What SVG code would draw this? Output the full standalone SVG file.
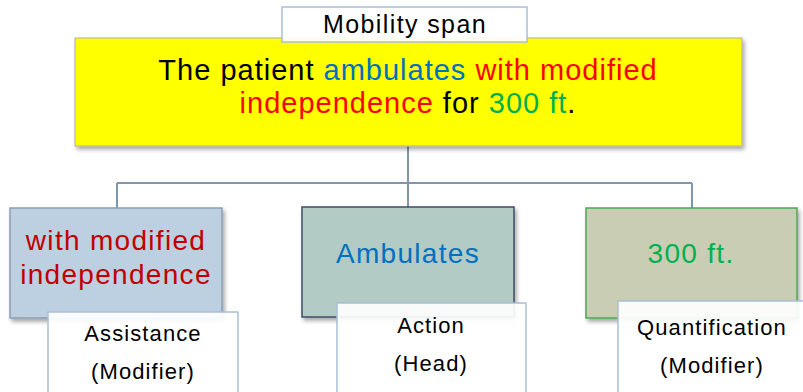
<svg xmlns="http://www.w3.org/2000/svg" width="803" height="392" viewBox="0 0 803 392">
  <defs>
    <filter id="shadow" x="-5%" y="-5%" width="115%" height="120%">
      <feGaussianBlur in="SourceAlpha" stdDeviation="2"/>
      <feOffset dx="2" dy="3" result="b"/>
      <feComponentTransfer><feFuncA type="linear" slope="0.35"/></feComponentTransfer>
      <feMerge><feMergeNode/><feMergeNode in="SourceGraphic"/></feMerge>
    </filter>
  </defs>
  <style>
    text { font-family: "Liberation Sans", Arial, sans-serif; text-anchor: middle; }
    .conn { fill: none; stroke: #7f96ad; stroke-width: 2; }
    .label { fill: #ffffff; fill-opacity: 0.92; stroke: #a9bfd6; stroke-width: 1.5; }
    .main { font-size: 29px; letter-spacing: 1px; fill: #000000; }
    .box { font-size: 28px; letter-spacing: 1.3px; }
    .sub { font-size: 22px; letter-spacing: 1.1px; fill: #000000; }
    .red { fill: #ff0000; }
    .blue { fill: #0070c0; }
    .green { fill: #00b050; }
  </style>

  <rect width="803" height="392" fill="#ffffff"/>

  <!-- connectors -->
  <g id="connectors">
    <path class="conn" d="M408,146 V183 M117,183 H692 M117,183 V208 M408,183 V207 M692,183 V208"/>
  </g>

  <!-- top sentence -->
  <g id="sentence">
    <rect x="75" y="38" width="667" height="108" fill="#ffff00" stroke="#b0b0a0" stroke-width="1" filter="url(#shadow)"/>
    <text class="main" x="408" y="80">The patient <tspan class="blue">ambulates</tspan> <tspan class="red">with modified</tspan></text>
    <text class="main" x="408" y="113"><tspan class="red">independence</tspan> for <tspan class="green">300 ft</tspan>.</text>
  </g>

  <g id="span-label">
    <rect class="label" x="282" y="7" width="245" height="35"/>
    <text x="405" y="33" font-size="25px" letter-spacing="1.4px" fill="#000000">Mobility span</text>
  </g>

  <!-- modifier: assistance -->
  <g id="assistance">
    <rect x="10" y="208" width="212" height="110" fill="#bdd0e2" stroke="#8a9fb5" stroke-width="1.5" filter="url(#shadow)"/>
    <text class="box" x="116" y="250" fill="#c00000">with modified</text>
    <text class="box" x="116" y="284" fill="#c00000">independence</text>
    <rect class="label" x="48" y="312" width="190" height="90"/>
    <text class="sub" x="143" y="341">Assistance</text>
    <text class="sub" x="143" y="379">(Modifier)</text>
  </g>

  <!-- head: action -->
  <g id="action">
    <rect x="302" y="207" width="212" height="110" fill="#b2cbc5" stroke="#3f4d63" stroke-width="1.5" filter="url(#shadow)"/>
    <text class="box" x="408" y="263" fill="#0070c0">Ambulates</text>
    <rect class="label" x="337" y="303" width="189" height="99"/>
    <text class="sub" x="431" y="333">Action</text>
    <text class="sub" x="431" y="371">(Head)</text>
  </g>

  <!-- modifier: quantification -->
  <g id="quantification">
    <rect x="586" y="208" width="211" height="110" fill="#c9cdb3" stroke="#4aaa55" stroke-width="1.5" filter="url(#shadow)"/>
    <text class="box" x="691" y="263" fill="#00b050">300 ft.</text>
    <rect class="label" x="618" y="301" width="195" height="101"/>
    <text class="sub" x="712" y="335">Quantification</text>
    <text class="sub" x="712" y="373">(Modifier)</text>
  </g>
</svg>
